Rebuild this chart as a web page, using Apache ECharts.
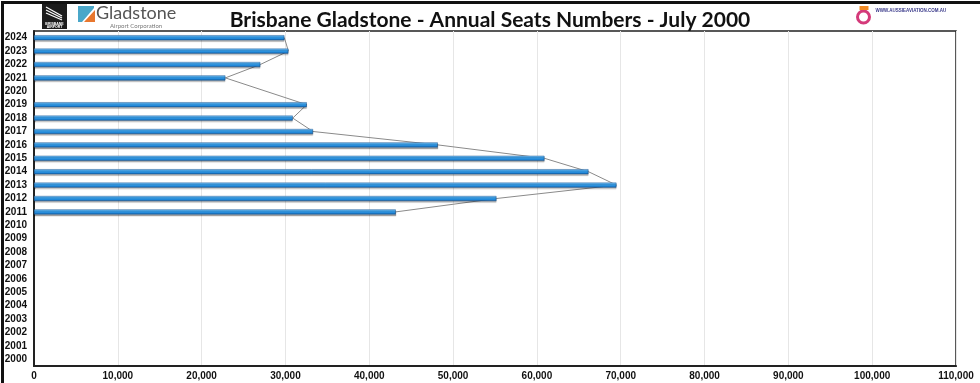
<!DOCTYPE html>
<html><head><meta charset="utf-8">
<script src="https://cdn.jsdelivr.net/npm/echarts@6/dist/echarts.min.js"></script>
<style>html,body{margin:0;padding:0;background:#fff}#c{width:980px;height:383px}</style>
</head><body><div id="c"></div>
<script>
const years = ['2000','2001','2002','2003','2004','2005','2006','2007','2008','2009','2010','2011','2012','2013','2014','2015','2016','2017','2018','2019','2020','2021','2022','2023','2024'];
const seats = [null,null,null,null,null,null,null,null,null,null,null,43160,55170,69490,66150,60900,48170,33290,30870,32540,null,22830,27000,30350,29870];
const xTicks = {min:0, max:110000, interval:10000};
const titleText = 'Brisbane Gladstone - Annual Seats Numbers - July 2000';

const chart = echarts.init(document.getElementById('c'));
chart.setOption({
  animation:false,
  title:{text:titleText,left:'center',top:5,textStyle:{fontFamily:'Lato',fontWeight:'bold',fontSize:21,color:'#111'}},
  grid:{left:34,right:24,top:31,bottom:17,show:true,borderColor:'#222',borderWidth:1.5},
  xAxis:{type:'value',min:xTicks.min,max:xTicks.max,interval:xTicks.interval,
    axisLine:{show:true,lineStyle:{color:'#222',width:2}},axisTick:{show:false},
    axisLabel:{fontFamily:'Liberation Sans Narrow, Arial',fontWeight:'bold',fontSize:10,color:'#111',margin:5,
      formatter:v=>v.toLocaleString('en-US')},
    splitLine:{show:true,lineStyle:{color:'#e6e6e6',width:1}}},
  yAxis:{type:'category',data:years,
    axisLine:{show:true,lineStyle:{color:'#222',width:2}},axisTick:{show:false},
    axisLabel:{fontFamily:'Liberation Sans Narrow, Arial',fontWeight:'bold',fontSize:10,color:'#111',margin:7},
    splitLine:{show:false}},
  series:[
    {type:'bar',data:seats,barWidth:5,z:3,
      itemStyle:{borderColor:'#1a5590',borderWidth:0.5,
        shadowColor:'rgba(0,0,0,0.3)',shadowOffsetY:1.5,shadowBlur:1,
        color:new echarts.graphic.LinearGradient(0,0,0,1,[
          {offset:0,color:'#9ad6ff'},{offset:0.3,color:'#42a6ee'},{offset:0.7,color:'#2189da'},{offset:1,color:'#105ea4'}])}},
    {type:'line',data:seats,connectNulls:true,showSymbol:false,symbol:'none',z:2,
      lineStyle:{color:'#8a8a8a',width:1}}
  ],
  graphic:[
    {type:'rect',left:0,top:0,shape:{width:980,height:383},style:{fill:'none',stroke:'#111',lineWidth:3},silent:true,z:100},
    {type:'group',left:42,top:4,children:[
      {type:'rect',shape:{x:0,y:0,width:25,height:25},style:{fill:'#1c1c1c'}},
      {type:'polyline',shape:{points:[[4,3],[20,12]]},style:{stroke:'#fff',lineWidth:1.2}},
      {type:'polyline',shape:{points:[[4,6],[20,14]]},style:{stroke:'#fff',lineWidth:1.2}},
      {type:'polyline',shape:{points:[[4,9],[20,16]]},style:{stroke:'#fff',lineWidth:1.2}},
      {type:'text',style:{x:12.5,y:18,text:'BRISBANE\nAIRPORT',align:'center',fill:'#fff',fontSize:3.5,fontWeight:'bold',lineHeight:3.6}}
    ]},
    {type:'group',left:78,top:4,children:[
      {type:'polygon',shape:{points:[[0,2],[16,2],[16,4],[4,18],[0,18]]},style:{fill:'#4aa7c9'}},
      {type:'polygon',shape:{points:[[6,18],[17,6],[17,18]]},style:{fill:'#e8772e'}},
      {type:'text',style:{x:18,y:0,text:'Gladstone',fill:'#555',fontSize:18,fontFamily:'Lato'}},
      {type:'text',style:{x:32,y:19,text:'Airport Corporation',fill:'#777',fontSize:6,fontFamily:'Lato'}}
    ]},
    {type:'group',left:855,top:6,children:[
      {type:'circle',shape:{cx:7,cy:13,r:6},style:{fill:'none',stroke:'#d43a7a',lineWidth:3}},
      {type:'rect',shape:{x:3,y:2,width:9,height:4},style:{fill:'#f08a24'}},
      {type:'text',style:{x:19,y:4,text:'WWW.AUSSIEAVIATION.COM.AU',fill:'#3a3a8a',fontSize:4.5,fontWeight:'bold'}}
    ]}
  ]
});
</script></body></html>
